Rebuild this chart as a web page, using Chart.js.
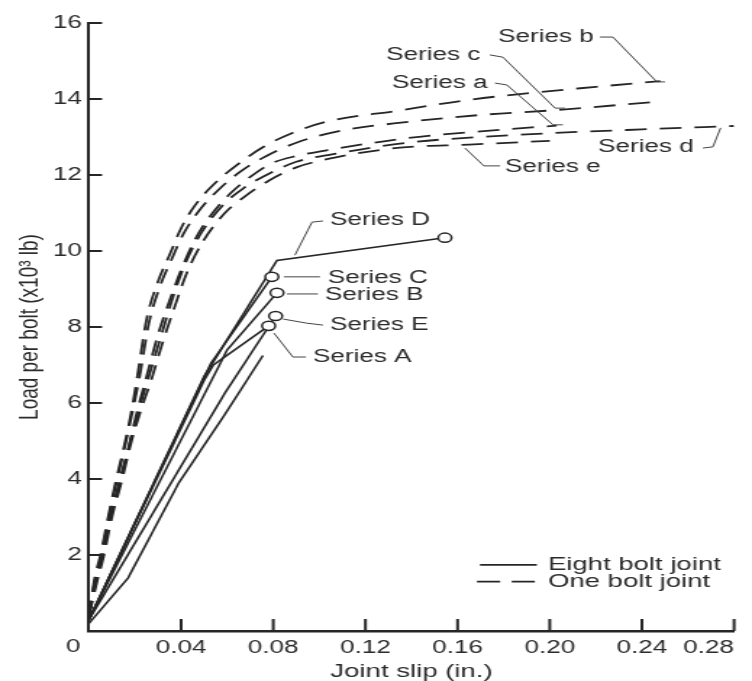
<!DOCTYPE html>
<html>
<head>
<meta charset="utf-8">
<title>Load per bolt vs joint slip</title>
<script src="https://cdn.jsdelivr.net/npm/chart.js@4.4.1/dist/chart.umd.min.js"></script>
<style>
  html, body { margin: 0; background: #fff; }
  /* the original figure is stretched sideways, so the canvas is drawn narrow and widened by css */
  #chart { display: block; width: 752px !important; height: 681px !important; }
</style>
</head>
<body>
<canvas id="chart" width="519" height="681" style="width:752px;height:681px"></canvas>
<script>
// [joint slip (in.), load per bolt (x10^3 lb)]
// eight bolt joints (solid)
const seriesA = [[0, 0.3], [0.05, 6.6], [0.054, 7.0], [0.078, 8.03]];
const seriesB = [[0, 0.3], [0.06, 7.4], [0.0816, 8.9]];
const seriesC = [[0, 0.3], [0.053, 7.05], [0.0794, 9.32]];
const seriesD = [[0, 0.3], [0.05, 6.7], [0.0816, 9.75], [0.1545, 10.35]];
const seriesE = [[0, 0.3], [0.059, 6.26], [0.081, 8.29]];
const seriesLow = [[0, 0.2], [0.017, 1.4], [0.039, 3.9], [0.059, 5.7], [0.0755, 7.25]];

// one bolt joints (dashed)
const series_a = [[0, 0.4], [0.003, 1.3], [0.006, 2.0], [0.009, 2.9], [0.013, 3.9], [0.017, 4.8], [0.021, 5.8],
  [0.025, 6.7], [0.03, 7.8], [0.035, 8.7], [0.04, 9.5], [0.046, 10.3], [0.053, 10.95], [0.062, 11.55],
  [0.07, 11.95], [0.079, 12.3], [0.09, 12.5], [0.106, 12.68], [0.138, 12.97], [0.17, 13.15], [0.203, 13.3]];
const series_b = [[0, 0.4], [0.0025, 1.4], [0.005, 2.0], [0.008, 2.9], [0.0115, 3.9], [0.015, 4.8], [0.0185, 5.8],
  [0.021, 6.7], [0.025, 8.2], [0.03, 9.2], [0.035, 9.9], [0.04, 10.6], [0.046, 11.2], [0.055, 11.8],
  [0.065, 12.3], [0.076, 12.75], [0.088, 13.1], [0.103, 13.4], [0.135, 13.7], [0.164, 13.97], [0.19, 14.15],
  [0.22, 14.32], [0.248, 14.47]];
const series_c = [[0, 0.4], [0.0025, 1.3], [0.005, 1.9], [0.008, 2.8], [0.0115, 3.8], [0.015, 4.7], [0.019, 5.8],
  [0.022, 6.7], [0.026, 8.1], [0.031, 9.1], [0.036, 9.8], [0.041, 10.45], [0.047, 11.0], [0.056, 11.6],
  [0.066, 12.1], [0.077, 12.5], [0.09, 12.85], [0.108, 13.15], [0.139, 13.4], [0.17, 13.58], [0.203, 13.71],
  [0.247, 13.93]];
const series_d = [[0, 0.4], [0.003, 1.3], [0.006, 2.0], [0.0095, 3.0], [0.0135, 3.9], [0.018, 5.0], [0.022, 5.9],
  [0.026, 6.7], [0.031, 7.7], [0.036, 8.7], [0.042, 9.7], [0.049, 10.5], [0.058, 11.2], [0.067, 11.65],
  [0.077, 12.0], [0.09, 12.35], [0.106, 12.55], [0.138, 12.85], [0.17, 13.0], [0.2, 13.1], [0.24, 13.2],
  [0.28, 13.29]];
const series_e = [[0, 0.4], [0.0035, 1.3], [0.0065, 2.0], [0.01, 3.0], [0.014, 3.9], [0.0185, 5.0], [0.023, 5.9],
  [0.027, 6.6], [0.032, 7.6], [0.037, 8.5], [0.043, 9.5], [0.05, 10.3], [0.059, 11.0], [0.068, 11.45],
  [0.078, 11.85], [0.09, 12.2], [0.106, 12.45], [0.135, 12.72], [0.165, 12.8], [0.2, 12.9]];

const xTicks = [0, 0.04, 0.08, 0.12, 0.16, 0.20, 0.24, 0.28];
const yTicks = [0, 2, 4, 6, 8, 10, 12, 14, 16];

// labels with their leader lines, in data units
const callouts = [
  { text: 'Series b', at: [0.1775, 15.63], leader: [[0.2218, 15.63], [0.2274, 15.63], [0.2465, 14.45], [0.25, 14.45]] },
  { text: 'Series c', at: [0.129, 15.16], leader: [[0.174, 15.16], [0.1797, 15.1], [0.2023, 13.76], [0.2066, 13.76]] },
  { text: 'Series a', at: [0.1315, 14.42], leader: [[0.1762, 14.42], [0.1814, 14.37], [0.2014, 13.32], [0.2057, 13.32]] },
  { text: 'Series d', at: [0.2209, 12.74], leader: [[0.2665, 12.71], [0.2708, 12.74], [0.2742, 13.24]] },
  { text: 'Series e', at: [0.1806, 12.21], leader: [[0.1784, 12.24], [0.1714, 12.24], [0.1632, 12.71]] },
  { text: 'Series D', at: [0.1046, 10.82], leader: [[0.1016, 10.79], [0.0968, 10.76], [0.0894, 9.89]] },
  { text: 'Series C', at: [0.1037, 9.29], leader: [[0.1003, 9.32], [0.0846, 9.32]] },
  { text: 'Series B', at: [0.1024, 8.84], leader: [[0.0994, 8.87], [0.0859, 8.87]] },
  { text: 'Series E', at: [0.1046, 8.05], leader: [[0.1016, 8.05], [0.0946, 8.1], [0.0842, 8.21]] },
  { text: 'Series A', at: [0.0972, 7.21], leader: [[0.0942, 7.21], [0.0885, 7.21], [0.0803, 7.84]] }
];

const legendItems = [
  { text: 'Eight bolt joint', dash: [], at: [0.1992, 1.74], from: 0.1697, to: 0.1944 },
  { text: 'One bolt joint', dash: [16, 8], at: [0.1992, 1.3], from: 0.1684, to: 0.1944 }
];

const ink = '#262626';
const textFont = '18px "Liberation Sans", Arial, sans-serif';

function pts(arr) {
  return arr.map(p => ({ x: p[0], y: p[1] }));
}

function solid(label, arr, marked) {
  return {
    label: label,
    data: pts(arr),
    borderColor: ink,
    borderWidth: 1.6,
    tension: 0,
    pointRadius: ctx => (marked && ctx.dataIndex === arr.length - 1) ? 4.6 : 0,
    pointBackgroundColor: '#fff',
    pointBorderColor: ink,
    pointBorderWidth: 1.5
  };
}

function dashed(label, arr) {
  return {
    label: label,
    data: pts(arr),
    borderColor: ink,
    borderWidth: 1.8,
    borderDash: [15, 9],
    cubicInterpolationMode: 'monotone',
    pointRadius: 0
  };
}

const annotate = {
  id: 'annotate',
  afterDraw(chart) {
    const ctx = chart.ctx;
    const xs = chart.scales.x;
    const ys = chart.scales.y;
    const area = chart.chartArea;
    ctx.save();
    ctx.strokeStyle = ink;
    ctx.fillStyle = '#2b2b2b';

    // tick marks point into the plot
    ctx.lineWidth = 2;
    xTicks.slice(1).forEach(v => {
      const px = xs.getPixelForValue(v);
      ctx.beginPath();
      ctx.moveTo(px, area.bottom);
      ctx.lineTo(px, area.bottom - 12);
      ctx.stroke();
    });
    yTicks.slice(1).forEach(v => {
      const py = ys.getPixelForValue(v);
      ctx.beginPath();
      ctx.moveTo(area.left, py);
      ctx.lineTo(area.left + 9, py);
      ctx.stroke();
    });

    ctx.font = textFont;
    ctx.textBaseline = 'middle';
    ctx.textAlign = 'center';
    // shared zero at the corner
    ctx.fillText('0', area.left - 11, area.bottom + 16);

    ctx.textAlign = 'left';
    ctx.lineWidth = 1;
    ctx.strokeStyle = '#444';
    callouts.forEach(c => {
      ctx.fillText(c.text, xs.getPixelForValue(c.at[0]), ys.getPixelForValue(c.at[1]));
      ctx.beginPath();
      c.leader.forEach((p, i) => {
        const px = xs.getPixelForValue(p[0]);
        const py = ys.getPixelForValue(p[1]);
        if (i === 0) ctx.moveTo(px, py); else ctx.lineTo(px, py);
      });
      ctx.stroke();
    });

    ctx.font = '19px "Liberation Sans", Arial, sans-serif';
    ctx.strokeStyle = ink;
    ctx.lineWidth = 1.6;
    legendItems.forEach(item => {
      const py = ys.getPixelForValue(item.at[1]);
      ctx.setLineDash(item.dash);
      ctx.beginPath();
      ctx.moveTo(xs.getPixelForValue(item.from), py);
      ctx.lineTo(xs.getPixelForValue(item.to), py);
      ctx.stroke();
      ctx.setLineDash([]);
      ctx.fillText(item.text, xs.getPixelForValue(item.at[0]), py);
    });
    ctx.restore();
  }
};

new Chart(document.getElementById('chart'), {
  type: 'line',
  data: {
    datasets: [
      solid('Series A', seriesA, true),
      solid('Series B', seriesB, true),
      solid('Series C', seriesC, true),
      solid('Series D', seriesD, true),
      solid('Series E', seriesE, true),
      solid('', seriesLow, false),
      dashed('Series a', series_a),
      dashed('Series b', series_b),
      dashed('Series c', series_c),
      dashed('Series d', series_d),
      dashed('Series e', series_e)
    ]
  },
  options: {
    responsive: false,
    animation: false,
    layout: { padding: { left: 0, right: 12.4, top: 23, bottom: 0 } },
    scales: {
      x: {
        type: 'linear',
        min: 0,
        max: 0.28,
        afterBuildTicks: s => { s.ticks = xTicks.map(v => ({ value: v })); },
        afterFit: s => { s.height = 50; },
        grid: { display: false, drawTicks: false },
        border: { display: true, color: ink, width: 2.5 },
        ticks: {
          callback: v => v === 0 ? '' : v.toFixed(2),
          font: { family: '"Liberation Sans", Arial, sans-serif', size: 18 },
          color: '#2b2b2b',
          padding: 6,
          align: 'inner',
          maxRotation: 0,
          autoSkip: false
        },
        title: {
          display: true,
          text: 'Joint slip (in.)',
          font: { family: '"Liberation Sans", Arial, sans-serif', size: 19 },
          color: '#2b2b2b',
          padding: { top: 0, bottom: -2 }
        }
      },
      y: {
        type: 'linear',
        min: 0,
        max: 16,
        afterBuildTicks: s => { s.ticks = yTicks.map(v => ({ value: v })); },
        afterFit: s => { s.width = 61.4; },
        grid: { display: false, drawTicks: false },
        border: { display: true, color: ink, width: 2 },
        ticks: {
          callback: v => v === 0 ? '' : v,
          font: { family: '"Liberation Sans", Arial, sans-serif', size: 18 },
          color: '#2b2b2b',
          padding: 5
        },
        title: {
          display: true,
          text: 'Load per bolt (x10³ lb)',
          font: { family: '"Liberation Sans", Arial, sans-serif', size: 19 },
          color: '#2b2b2b',
          padding: { top: 9, bottom: 0 }
        }
      }
    },
    plugins: {
      legend: { display: false },
      tooltip: { enabled: false }
    }
  },
  plugins: [annotate]
});
</script>
</body>
</html>
